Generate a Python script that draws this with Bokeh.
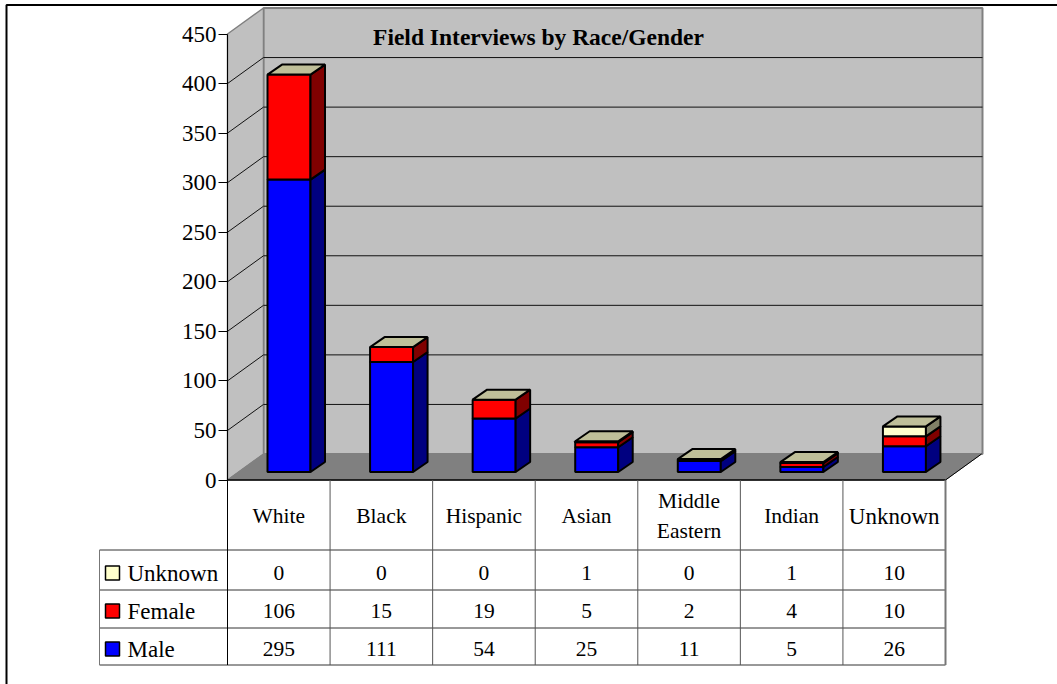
from bokeh.plotting import figure
from bokeh.models import Range1d, LinearAxis, FixedTicker
from bokeh.core.properties import value
from bokeh.embed import file_html
from bokeh.resources import INLINE

categories = ["White", "Black", "Hispanic", "Asian", "Middle\nEastern", "Indian", "Unknown"]
male = [295, 111, 54, 25, 11, 5, 26]
female = [106, 15, 19, 5, 2, 4, 10]
unknown = [0, 0, 0, 1, 0, 1, 10]
series_names = ["Unknown", "Female", "Male"]
y_ticks = list(range(0, 451, 50))
title = "Field Interviews by Race/Gender"

W, H = 1057, 684
X0, X7 = 228.0, 946.0      # pixel extent of the plot's front edge
Y0, Y450 = 480.0, 34.0
UX = (X7 - X0) / 7
UY = (Y0 - Y450) / 450
FONT = "Liberation Serif"


def hx(px):   # horizontal pixel -> category units
    return (px - X0) / UX


def vy(py):   # vertical pixel -> value units
    return (Y0 - py) / UY


WALL_DX, WALL_DY = 36 / UX, 26 / UY
BAR_DX, BAR_DY = 14.5 / UX, 10 / UY
BAR_W = 43 / UX
BAR_X = 40 / UX            # bar's left edge inside each category
BAR_BASE = 8 / UY          # bar's front bottom above the value zero line

p = figure(width=W, height=H, output_backend="svg", toolbar_location=None,
           x_range=Range1d(hx(1), hx(W + 1)), y_range=Range1d(vy(H + 0.5), vy(0.5)),
           x_axis_location=None, y_axis_location=None, min_border=0,
           outline_line_color=None, background_fill_color="white",
           border_fill_color="white", margin=(0, 0, 0, 0))
p.xgrid.visible = False
p.ygrid.visible = False

# outer frame
p.line([hx(7), hx(7), hx(W + 1)], [vy(H + 1), vy(5), vy(5)], line_color="black", line_width=2)

# walls and floor
p.patch([hx(264), hx(983), hx(983), hx(264)], [vy(8), vy(8), vy(454), vy(454)],
        fill_color="#C0C0C0", line_color="#808080", line_width=2)
p.patch([0, WALL_DX, WALL_DX, 0], [450, 450 + WALL_DY, WALL_DY, 0],
        fill_color="#C0C0C0", line_color="#808080", line_width=1.5)
p.patch([0, WALL_DX, 7 + WALL_DX, 7], [0, WALL_DY, WALL_DY, 0],
        fill_color="#808080", line_color="#808080", line_width=1)

# gridlines
for t in y_ticks[1:-1]:
    p.line([0, WALL_DX, hx(983)], [t, t + WALL_DY, t + WALL_DY], line_color="#111111", line_width=1)

# stacked 3-D bars
FRONT = ["#0000FF", "#FF0000", "#FFFFCC"]
SIDE = ["#000080", "#800000", "#808066"]
TOP = "#BFBF99"
for i in range(len(categories)):
    x0 = i + BAR_X
    x1 = x0 + BAR_W
    base = BAR_BASE
    for vals, f, s in zip((male, female, unknown), FRONT, SIDE):
        v = vals[i]
        if v == 0:
            continue
        top = base + v
        p.patch([x0, x1, x1, x0], [base, base, top, top], fill_color=f, line_color="black", line_width=2)
        p.patch([x1, x1 + BAR_DX, x1 + BAR_DX, x1], [base, base + BAR_DY, top + BAR_DY, top],
                fill_color=s, line_color="black", line_width=2)
        base = top
    p.patch([x0, x1, x1 + BAR_DX, x0 + BAR_DX], [base, base, base + BAR_DY, base + BAR_DY],
            fill_color=TOP, line_color="black", line_width=2)

# value axis
axis = LinearAxis(fixed_location=0, bounds=(0, 450), ticker=FixedTicker(ticks=y_ticks))
axis.axis_line_color = "black"
axis.major_tick_line_color = "black"
axis.major_tick_in = 0
axis.major_tick_out = 9
axis.minor_tick_line_color = None
axis.major_label_standoff = 2
axis.major_label_text_font = FONT
axis.major_label_text_font_size = "23px"
axis.major_label_text_color = "black"
p.add_layout(axis, "left")

# data table
rows_py = [550, 590, 628, 665]
for r in rows_py:
    p.line([hx(100), hx(946)], [vy(r)] * 2, line_color="#333333", line_width=1)
p.line([0, 7], [0, 0], line_color="black", line_width=1.5)
p.line([hx(100), hx(100)], [vy(550), vy(665)], line_color="#777777", line_width=1)
p.line([0, 0], [0, vy(665)], line_color="black", line_width=1)
for i in range(1, 7):
    p.line([i, i], [0, vy(665)], line_color="#555555", line_width=1)
p.line([7, 7], [0, vy(665)], line_color="#777777", line_width=2)
p.line([7, 7 + WALL_DX], [0, WALL_DY], line_color="black", line_width=1)


def label(x, py, txt, align="center", bold=False, size="21.5px"):
    p.text([x], [vy(py)], text=[txt], text_align=align, text_baseline="middle",
           text_font=value(FONT), text_font_size=size, text_color="black",
           text_font_style="bold" if bold else "normal", text_line_height=1.25)


label(hx(539), 37, title, bold=True, size="23.5px")
for i, c in enumerate(categories):
    label(i + 0.5, 516, c, size="23px" if c == "Unknown" else "21.5px")
for py, vals in zip((573, 611, 649), (unknown, female, male)):
    for i, v in enumerate(vals):
        label(i + 0.5, py, str(v))

for py, name, col in zip((573, 611, 649), series_names, ("#FFFFCC", "#FF0000", "#0000FF")):
    p.patch([hx(106), hx(120), hx(120), hx(106)], [vy(py - 7), vy(py - 7), vy(py + 7), vy(py + 7)],
            fill_color=col, line_color="black", line_width=1.5)
    label(hx(128), py, name, align="left", size="23px")

open("out.html", "w").write(file_html(p, INLINE))
